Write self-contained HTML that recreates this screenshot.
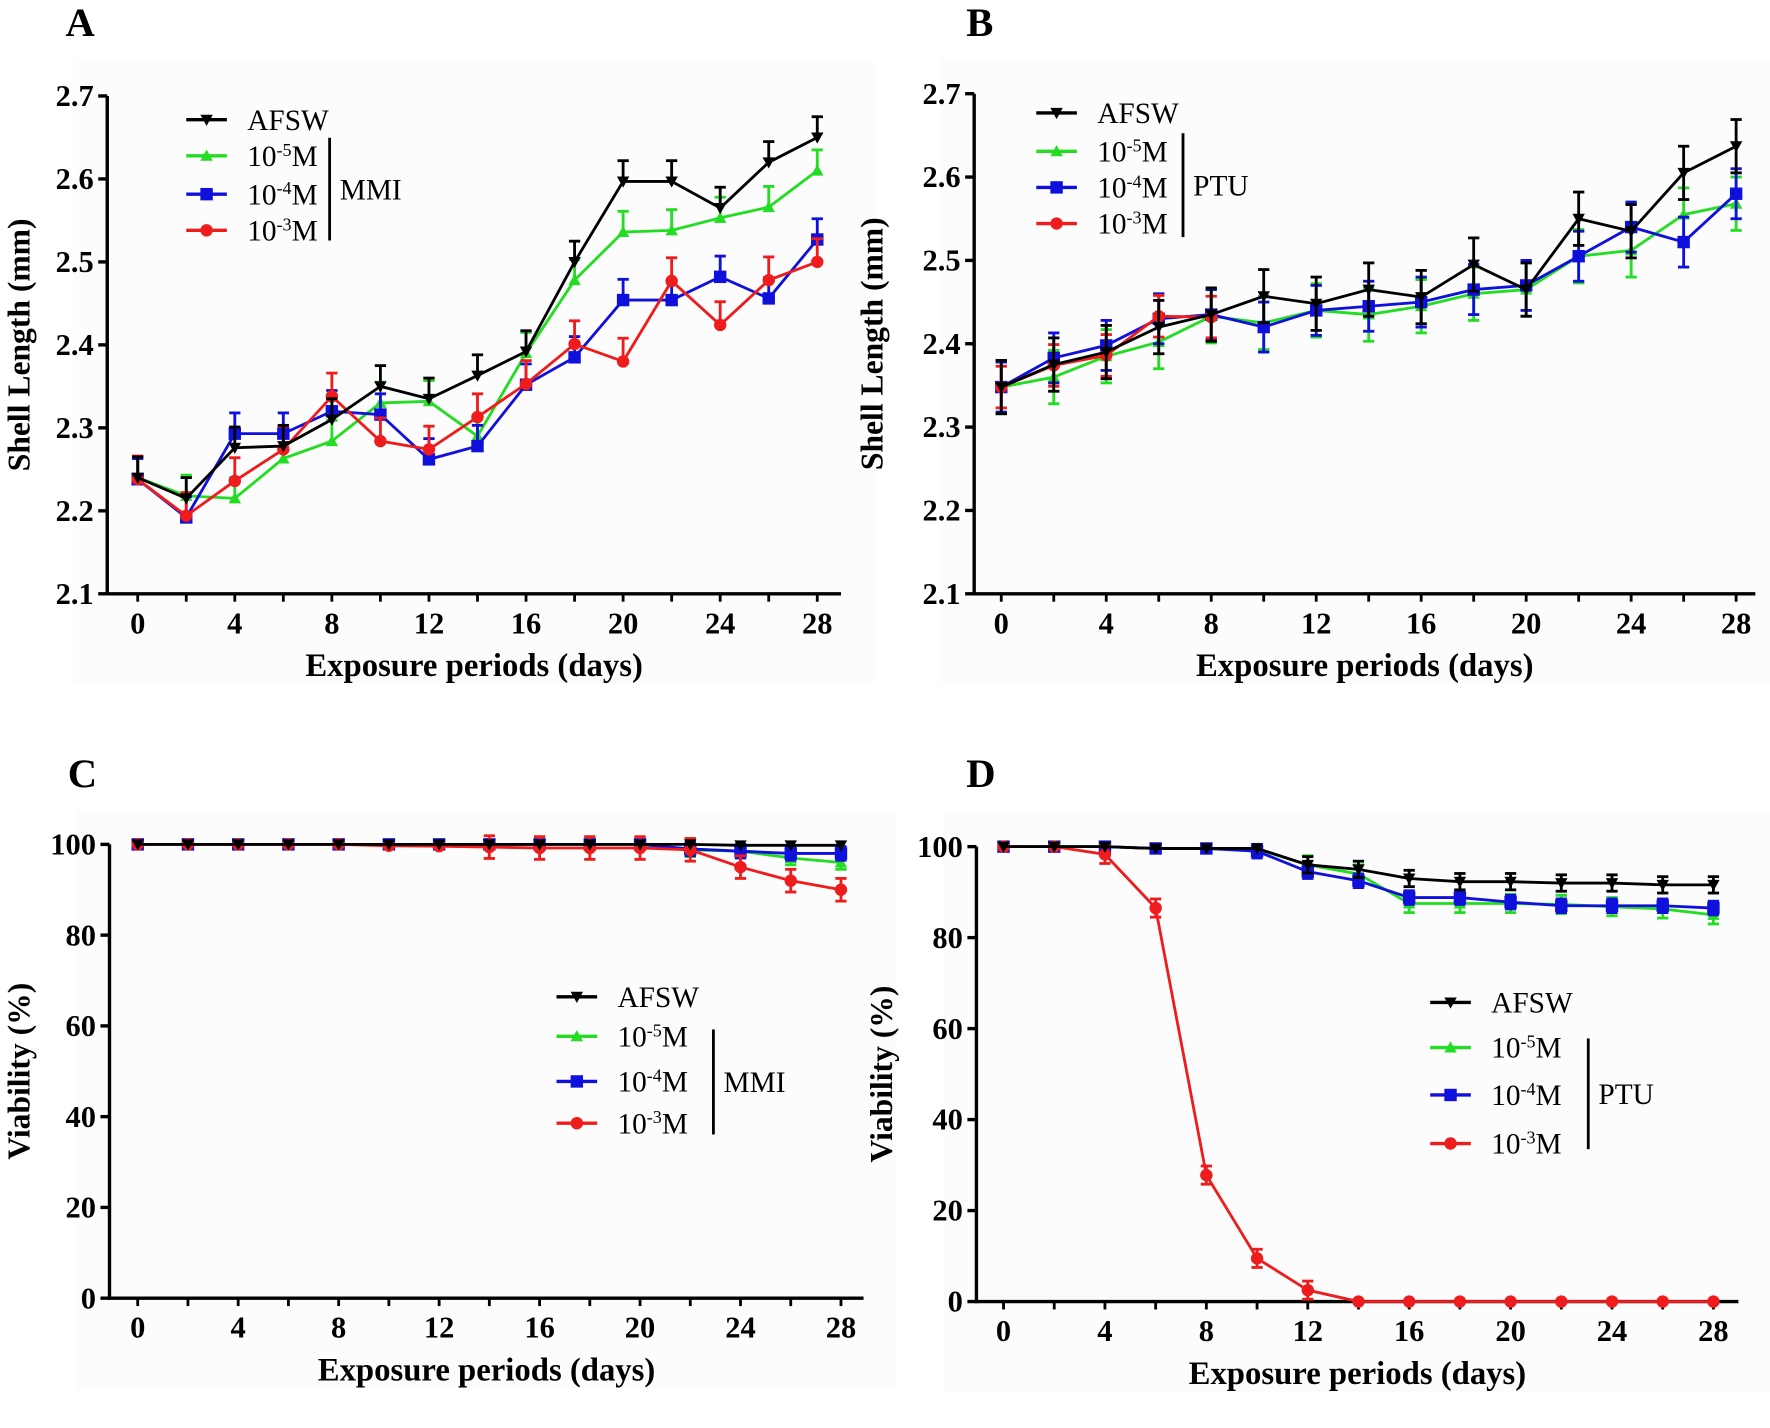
<!DOCTYPE html>
<html><head><meta charset="utf-8">
<style>html,body{margin:0;padding:0;background:#fff}svg{display:block}</style>
</head><body>
<svg id="s" width="1770" height="1428" viewBox="0 0 1568 1265" xmlns="http://www.w3.org/2000/svg" font-family="Liberation Serif, serif"></svg>
<script>
const S=document.getElementById('s');let h='';
const cols={a:'#000',b:'#22dd22',c:'#1010dd',d:'#ee1c1c'};
function mk(t,x,y,c){const r=5.5;
 if(t=='a')return `<polygon points="${x-r},${y-r*0.8} ${x+r},${y-r*0.8} ${x},${y+r}" fill="${c}"/>`;
 if(t=='b')return `<polygon points="${x-r},${y+r*0.8} ${x+r},${y+r*0.8} ${x},${y-r}" fill="${c}"/>`;
 if(t=='c')return `<rect x="${x-r}" y="${y-r}" width="${2*r}" height="${2*r}" fill="${c}"/>`;
 return `<circle cx="${x}" cy="${y}" r="${r}" fill="${c}"/>`;}
function panel(p){
 const X=d=>p.x0+d*p.dx, Y=v=>p.y0-(v-p.vmin)/(p.vmax-p.vmin)*(p.y0-p.y1);
 h+=`<rect x="${p.ax-30}" y="${p.y1-30}" width="${p.xe-p.ax+60}" height="${p.y0-p.y1+110}" fill="#fcfcfc"/>`;
 h+=`<line x1="${p.ax}" y1="${p.y1}" x2="${p.ax}" y2="${p.y0+1.5}" stroke="#000" stroke-width="3"/>`;
 h+=`<line x1="${p.ax}" y1="${p.y0}" x2="${p.xe}" y2="${p.y0}" stroke="#000" stroke-width="3"/>`;
 p.yt.forEach(v=>{const y=Y(v);h+=`<line x1="${p.ax-8}" y1="${y}" x2="${p.ax}" y2="${y}" stroke="#000" stroke-width="3"/><text x="${p.ax-12}" y="${y+9}" text-anchor="end" font-weight="bold" font-size="27">${p.fmt(v)}</text>`});
 for(let d=0;d<=28;d+=2){const x=X(d);h+=`<line x1="${x}" y1="${p.y0}" x2="${x}" y2="${p.y0+7}" stroke="#000" stroke-width="2.5"/>`;
  if(d%4==0)h+=`<text x="${x}" y="${p.y0+35}" text-anchor="middle" font-weight="bold" font-size="27">${d}</text>`;}
 h+=`<text x="${(p.ax+p.xe)/2}" y="${p.y0+73}" text-anchor="middle" font-weight="bold" font-size="29">Exposure periods (days)</text>`;
 h+=`<text transform="translate(${p.ytx},${(p.y0+p.y1)/2}) rotate(-90)" text-anchor="middle" font-weight="bold" font-size="28">${p.ytitle}</text>`;
 h+=`<text x="${p.lx}" y="${p.ly}" font-weight="bold" font-size="36">${p.L}</text>`;
 ['b','c','d','a'].forEach(k=>{const data=p.s[k];if(!data)return;const c=cols[k];
  let pts=data.map((v,i)=>X(i*2)+','+Y(v)).join(' ');
  h+=`<polyline points="${pts}" fill="none" stroke="${c}" stroke-width="2.5"/>`;
  data.forEach((v,i)=>{const x=X(i*2),y=Y(v);let ev=(p.e[k]||0);
   if(p.vmax==100&&(v<=0.01||v>=99.5))ev=0;
   const e=ev*(p.y0-p.y1)/(p.vmax-p.vmin);
   if(e>2&&!(p.noerr0&&i==0&&k!='d')){const lo=p.up?y:y+e;h+=`<line x1="${x}" y1="${y-e}" x2="${x}" y2="${lo}" stroke="${c}" stroke-width="2.5"/><line x1="${x-5}" y1="${y-e}" x2="${x+5}" y2="${y-e}" stroke="${c}" stroke-width="2.5"/>`;
    if(!p.up)h+=`<line x1="${x-5}" y1="${y+e}" x2="${x+5}" y2="${y+e}" stroke="${c}" stroke-width="2.5"/>`;}
   h+=mk(k,x,y,c);});});
 const lg=p.leg,names={a:'AFSW',b:'10<tspan dy="-9" font-size="16">-5</tspan><tspan dy="9">M</tspan>',c:'10<tspan dy="-9" font-size="16">-4</tspan><tspan dy="9">M</tspan>',d:'10<tspan dy="-9" font-size="16">-3</tspan><tspan dy="9">M</tspan>'};
 ['a','b','c','d'].forEach((k,i)=>{const y=lg.ys[i];h+=`<line x1="${lg.x}" y1="${y}" x2="${lg.x+36}" y2="${y}" stroke="${cols[k]}" stroke-width="3"/>`+mk(k,lg.x+18,y,cols[k])+`<text x="${lg.x+54}" y="${y+9}" font-size="26">${names[k]}</text>`;});
 h+=`<line x1="${lg.bx}" y1="${lg.b1}" x2="${lg.bx}" y2="${lg.b2}" stroke="#000" stroke-width="2.5"/><text x="${lg.bx+9}" y="${(lg.b1+lg.b2)/2+9}" font-size="26">${p.grp}</text>`;
}
const f1=v=>v.toFixed(1),f0=v=>String(v);
panel({L:'A',lx:58,ly:32,ax:95,xe:745,x0:122,dx:21.5,y0:526,y1:85,vmin:2.1,vmax:2.7,yt:[2.1,2.2,2.3,2.4,2.5,2.6,2.7],fmt:f1,ytx:26,ytitle:'Shell Length (mm)',up:true,
 s:{a:[2.24,2.215,2.276,2.278,2.31,2.35,2.335,2.363,2.392,2.50,2.597,2.597,2.565,2.62,2.65],
 b:[2.24,2.218,2.215,2.263,2.284,2.33,2.332,2.29,2.39,2.478,2.536,2.538,2.553,2.566,2.61],
 c:[2.238,2.192,2.293,2.293,2.32,2.316,2.262,2.278,2.352,2.385,2.454,2.454,2.482,2.456,2.527],
 d:[2.238,2.194,2.236,2.274,2.338,2.284,2.274,2.313,2.353,2.401,2.38,2.477,2.424,2.478,2.50]},
 e:{a:0.025,b:0.025,c:0.025,d:0.028},grp:'MMI',leg:{x:165,ys:[106,138,172,204],bx:292,b1:122,b2:213}});
panel({L:'B',lx:856,ly:32,ax:863,xe:1555,x0:887,dx:23.25,y0:526,y1:83,vmin:2.1,vmax:2.7,yt:[2.1,2.2,2.3,2.4,2.5,2.6,2.7],fmt:f1,ytx:782,ytitle:'Shell Length (mm)',up:false,
 s:{a:[2.348,2.375,2.39,2.42,2.435,2.457,2.448,2.465,2.456,2.495,2.465,2.55,2.535,2.605,2.637],
 b:[2.348,2.36,2.385,2.402,2.433,2.425,2.44,2.435,2.445,2.46,2.465,2.505,2.512,2.555,2.568],
 c:[2.348,2.383,2.398,2.43,2.435,2.42,2.44,2.445,2.45,2.465,2.47,2.505,2.54,2.522,2.58],
 d:[2.348,2.374,2.386,2.433,2.432]},
 e:{a:0.032,b:0.032,c:0.03,d:0.025},grp:'PTU',leg:{x:918,ys:[100,134,166,198],bx:1048,b1:118,b2:210}});
panel({L:'C',lx:60,ly:697,ax:97,xe:765,x0:122,dx:22.25,y0:1150,y1:748,vmin:0,vmax:100,yt:[0,20,40,60,80,100],fmt:f0,ytx:26,ytitle:'Viability (%)',up:false,
 s:{a:[100,100,100,100,100,100,100,100,100,100,100,100,99.8,99.8,99.8],
 b:[100,100,100,100,100,100,100,100,100,100,100,98.8,98.5,97,96],
 c:[100,100,100,100,100,100,100,100,100,100,100,99,98.5,98,98],
 d:[100,100,100,100,100,99.7,99.6,99.4,99.2,99.2,99.2,98.8,95,92,90]},
 e:{a:1,b:1.5,c:1.5,d:2.5},grp:'MMI',leg:{x:493,ys:[883,918,958,995],bx:632,b1:912,b2:1005}});
panel({L:'D',lx:856,ly:697,ax:865,xe:1540,x0:889,dx:22.46,y0:1153,y1:750,vmin:0,vmax:100,yt:[0,20,40,60,80,100],fmt:f0,ytx:790,ytitle:'Viability (%)',up:false,
 s:{a:[100,100,100,99.6,99.6,99.6,96,95,93,92.3,92.3,92,92,91.6,91.6],
 b:[100,100,100,99.6,99.6,99.5,96,94,87.5,87.5,87.5,87.3,86.8,86.3,85],
 c:[100,100,100,99.6,99.6,99,94.5,92.5,88.8,88.8,87.8,87,87,87,86.5],
 d:[100,100,98.3,86.5,27.8,9.5,2.5,0,0,0,0,0,0,0,0]},
 e:{a:1.8,b:2,c:1.5,d:2},grp:'PTU',leg:{x:1267,ys:[888,928,970,1013],bx:1407,b1:920,b2:1018}});
S.innerHTML=h;
</script>
</body></html>
